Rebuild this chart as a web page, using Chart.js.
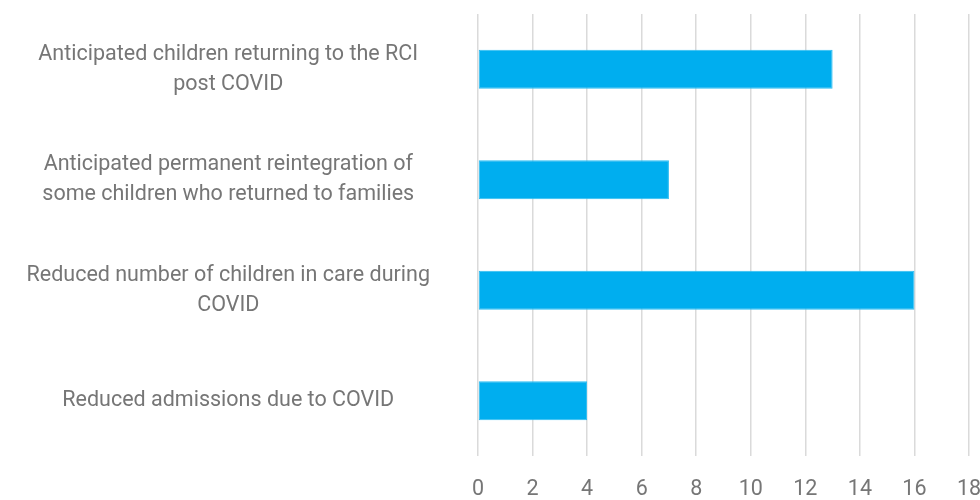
<!DOCTYPE html>
<html>
<head>
<meta charset="utf-8">
<script src="https://cdn.jsdelivr.net/npm/chart.js@4/dist/chart.umd.min.js"></script>
<style>
  html, body { margin: 0; padding: 0; background: #ffffff; }
  #wrap { width: 980px; height: 500px; position: relative; }
</style>
</head>
<body>
<div id="wrap"><canvas id="c"></canvas></div>
<script>
const categories = [
  ["Anticipated children returning to the RCI", "post COVID"],
  ["Anticipated permanent reintegration of", "some children who returned to families"],
  ["Reduced number of children in care during", "COVID"],
  ["Reduced admissions due to COVID"]
];
const values = [13, 7, 16, 4];
const xTicks = [0, 2, 4, 6, 8, 10, 12, 14, 16, 18];

const labelColor = '#767676';
const fontFamily = 'Roboto, "Liberation Sans", sans-serif';

new Chart(document.getElementById('c'), {
  type: 'bar',
  data: {
    labels: categories,
    datasets: [{
      data: values,
      backgroundColor: '#00AEEF',
      borderColor: '#2BBDF2',
      borderWidth: 1,
      borderSkipped: false,
      categoryPercentage: 1.0,
      barPercentage: 0.353
    }]
  },
  options: {
    indexAxis: 'y',
    responsive: true,
    maintainAspectRatio: false,
    animation: false,
    layout: { padding: { top: 14, bottom: 0, left: 0, right: 0 } },
    plugins: { legend: { display: false }, tooltip: { enabled: false } },
    scales: {
      x: {
        min: xTicks[0],
        max: xTicks[xTicks.length - 1],
        afterBuildTicks: (scale) => { scale.ticks = xTicks.map(v => ({ value: v })); },
        afterFit: (scale) => { scale.height = 44; scale.paddingLeft = 0; scale.paddingRight = 11; },
        grid: { color: '#dadada', lineWidth: 1.5, drawTicks: false },
        border: { display: false },
        ticks: {
          color: labelColor,
          padding: 21,
          font: { family: fontFamily, size: 21.5 }
        }
      },
      y: {
        grid: { display: false, drawTicks: false },
        border: { display: false },
        afterFit: (scale) => { scale.width = 478; scale.paddingTop = 0; scale.paddingBottom = 0; },
        ticks: {
          color: labelColor,
          crossAlign: 'center',
          padding: 48,
          font: { family: fontFamily, size: 21.5, lineHeight: 1.395 }
        }
      }
    }
  }
});
</script>
</body>
</html>
